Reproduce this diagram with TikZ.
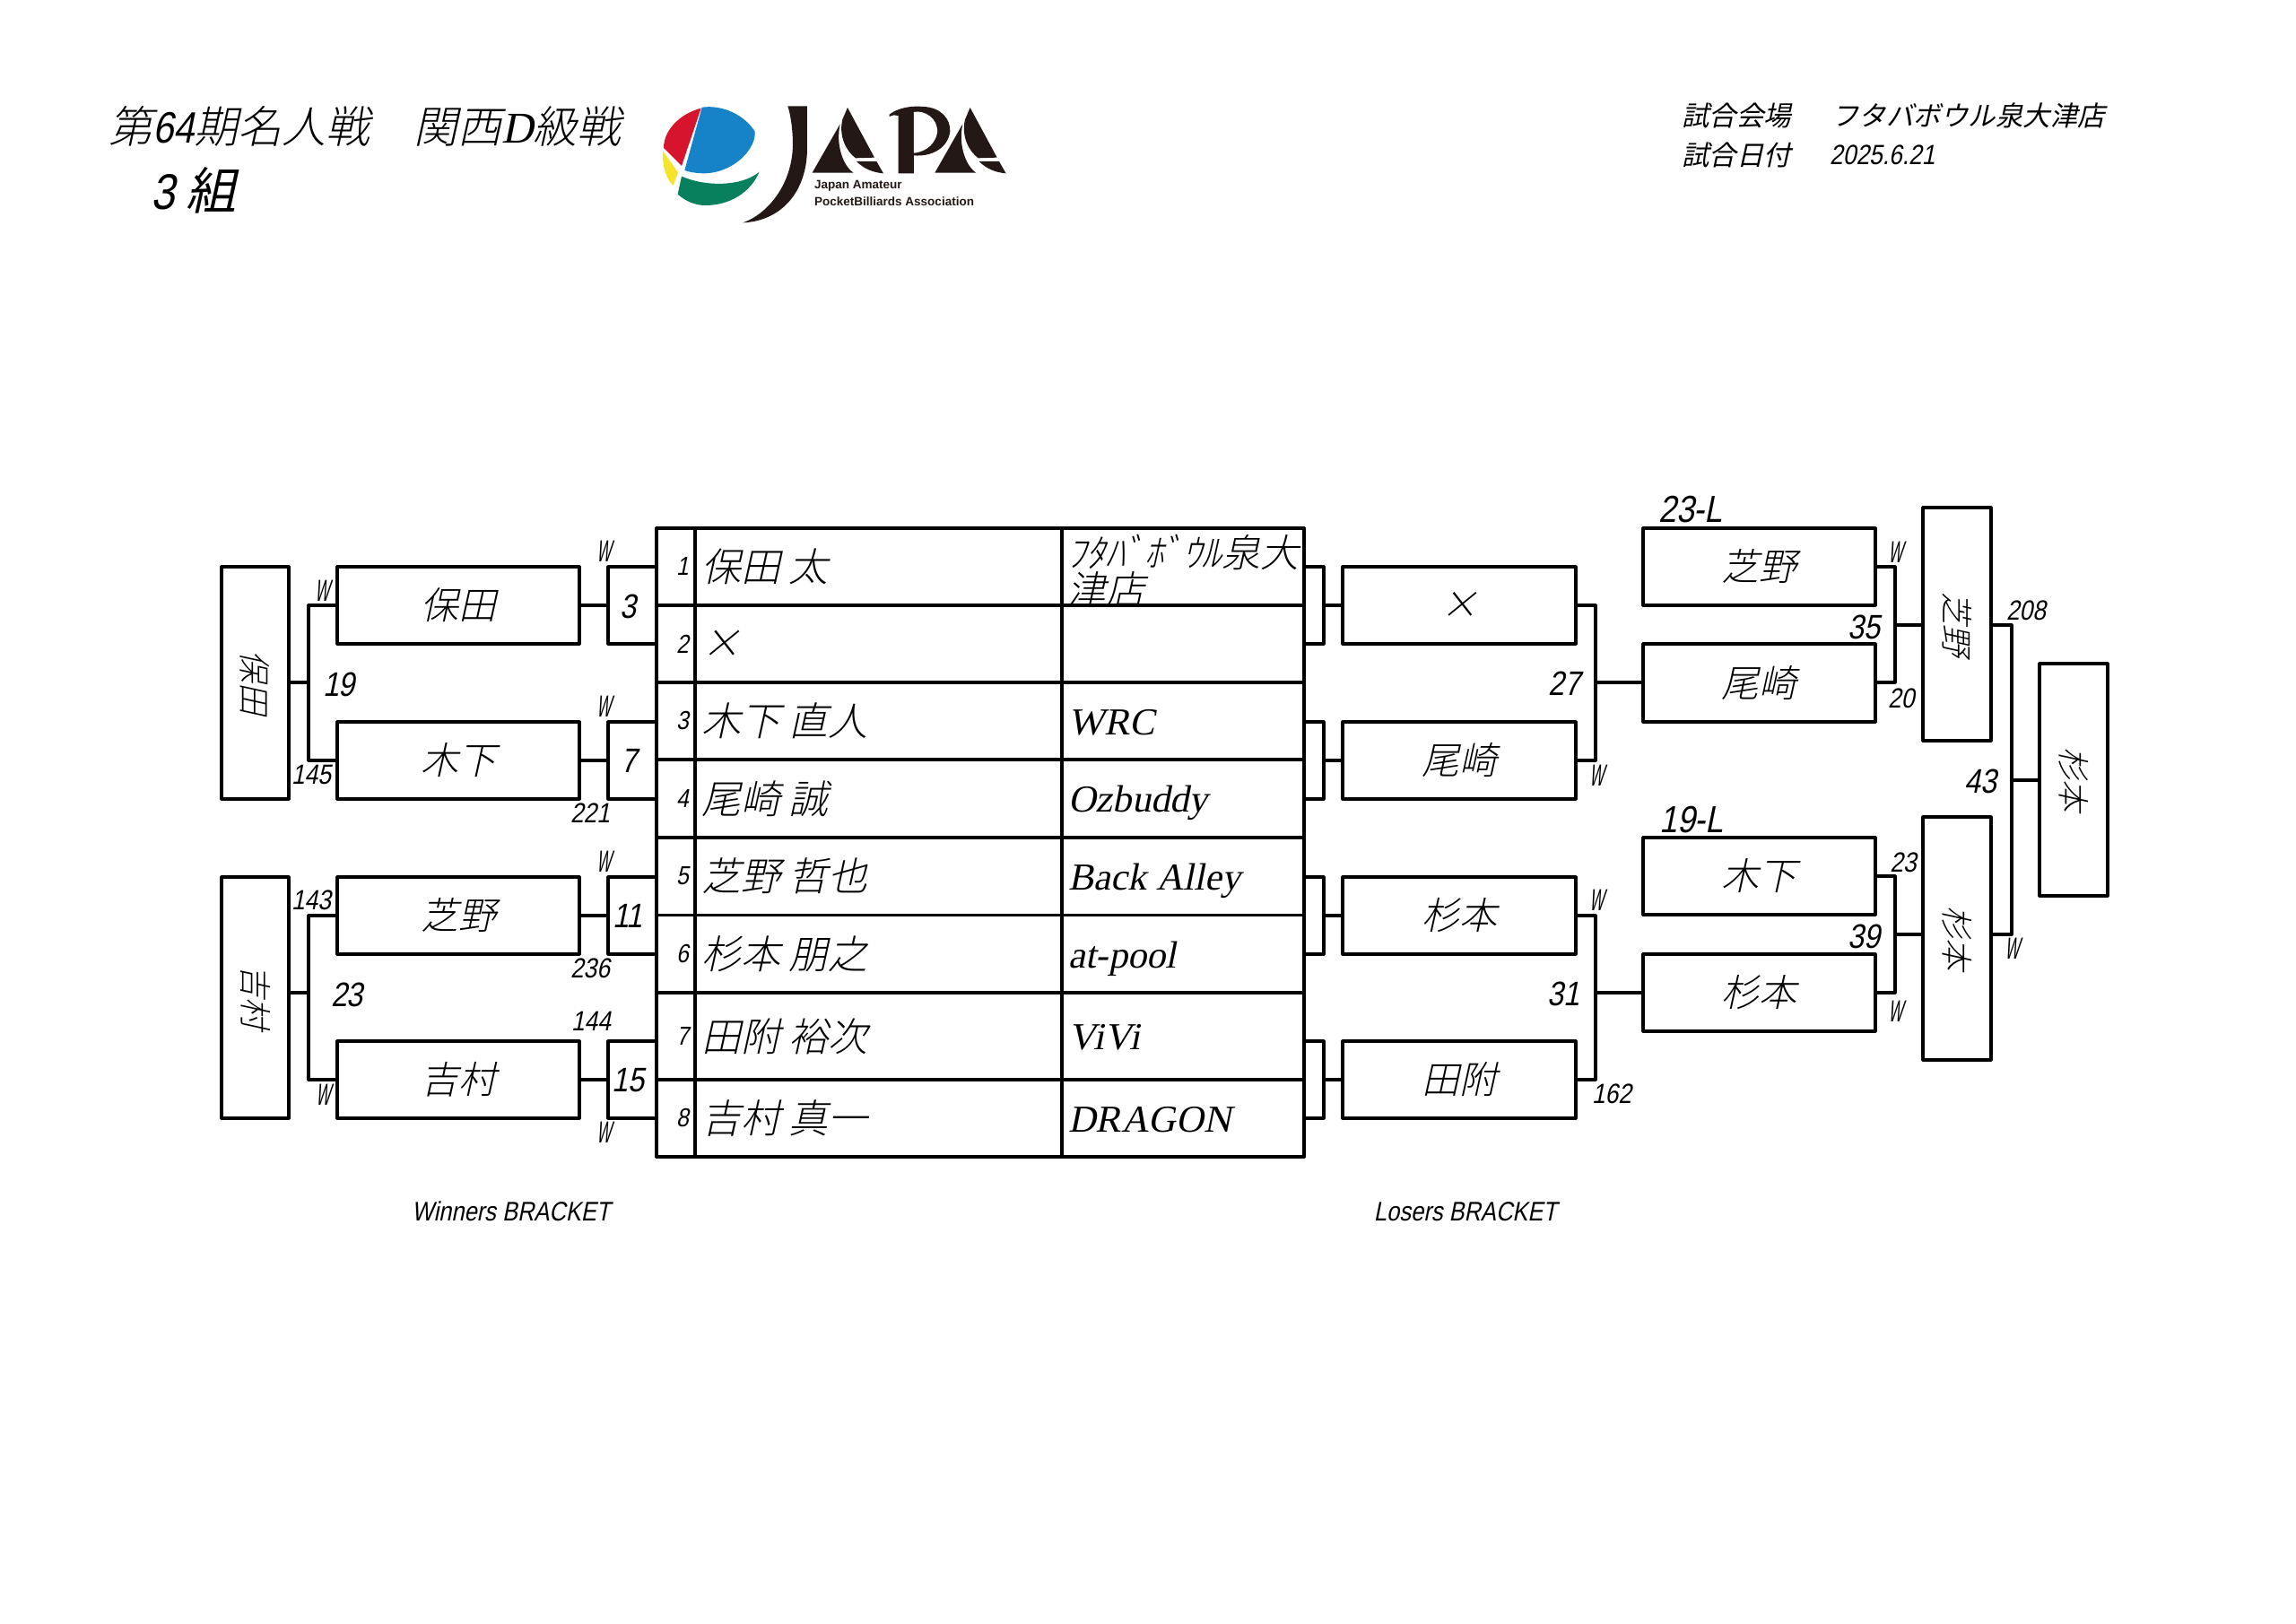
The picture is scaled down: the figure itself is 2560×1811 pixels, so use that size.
\documentclass[tikz,border=0pt]{standalone}
\usepackage{fontspec}
\setmainfont{Liberation Serif}
\newfontfamily\jp[FakeSlant=0.22]{Noto Sans CJK JP Light}
\newfontfamily\jpb[FakeSlant=0.22]{Noto Sans CJK JP}
\newfontfamily\wfont[FakeStretch=0.5,FakeSlant=0.2]{Liberation Sans}
\newfontfamily\numi[FakeStretch=0.85,FakeSlant=0.2]{Liberation Sans}
\newfontfamily\cond{Liberation Sans}
\newfontfamily\seri[FakeSlant=0.2]{Liberation Serif}
\definecolor{ink}{HTML}{231815}
\definecolor{lgblue}{HTML}{1682C8}
\definecolor{lgred}{HTML}{D7142E}
\definecolor{lgyellow}{HTML}{F5E42A}
\definecolor{lggreen}{HTML}{08805E}
\tikzset{
 x=1pt,y=-1pt,
 bx/.style={draw=black,line width=3.2pt,line join=round,line cap=round,fill=none},
 ln/.style={draw=black,line width=3.2pt,line join=round,line cap=round},
 big/.style={font=\fontsize{42}{42}\selectfont\jp,inner sep=0pt},
 vert/.style={big,rotate=-90,font=\fontsize{36}{36}\selectfont\jp},
 mono/.style={inner sep=0pt,xshift=-2pt,font=\fontsize{38}{38}\selectfont\numi},
 sm/.style={inner sep=0pt,xshift=-2pt,font=\fontsize{31}{31}\selectfont\numi},
 wl/.style={inner sep=0pt,xshift=-3pt,font=\fontsize{34}{34}\selectfont\wfont},
 rowno/.style={inner sep=0pt,xshift=-2pt,font=\fontsize{29}{29}\selectfont\numi},
 nm/.style={anchor=west,inner sep=0pt,xshift=-3pt,font=\fontsize{44}{44}\selectfont\jp},
 te/.style={anchor=base west,inner sep=0pt,xshift=-2pt,font=\fontsize{42.5}{42.5}\selectfont\seri},
 hdr/.style={anchor=west,inner sep=0pt,font=\fontsize{30.5}{30.5}\selectfont\jpb},
 lgtxt/.style={anchor=west,inner sep=0pt,text=ink,font=\fontsize{13.5}{13.5}\selectfont\cond\bfseries},
 captxt/.style={inner sep=0pt,xshift=-2pt,font=\fontsize{30}{30}\selectfont\numi},
}
\newcommand{\logoA}{%
 \fill[ink] (620,100) -- (527,263) -- (665,263) .. controls (630,240) and (605,170) .. (620,100) -- cycle;
 \fill[ink] (645,45) -- (735,212) -- (672,214) .. controls (640,190) and (615,140) .. (628,85) -- cycle;
 \fill[ink] (675,225) -- (742,225) -- (765,265) .. controls (730,262) and (700,250) .. (675,225) -- cycle;}
\begin{document}
\begin{tikzpicture}
\path[use as bounding box] (0,0) rectangle (2560,1811);
% header
\node[anchor=west,inner sep=0pt,font=\fontsize{49}{49}\selectfont\jp] (title) at (121,141) {第{\numi 64}期名人戦　関西{\seri D}級戦};
\node[anchor=west,inner sep=0pt,font=\fontsize{56}{56}\selectfont\jpb] (grp) at (168,212) {{\numi 3}\hspace{13pt}組};
\node[hdr] (v1) at (1875,129) {試合会場};
\node[hdr] (v2) at (2042,129) {フタバボウル泉大津店};
\node[hdr] (d1) at (1875,173) {試合日付};
\node[anchor=west,inner sep=0pt,font=\fontsize{31}{31}\selectfont\numi] (d2) at (2040,173) {2025.6.21};
% logo
\begin{scope}[shift={(730,105)},x=0.3333pt,y=-0.3333pt]
\fill[lgblue] (158,44) .. controls (230,35) and (300,70) .. (335,125) .. controls (340,180) and (270,260) .. (170,265) .. controls (135,265) and (115,260) .. (100,255) -- cycle;
\fill[lgred] (155,47) .. controls (85,65) and (30,120) .. (30,180) -- (90,240) -- cycle;
\fill[lgyellow] (27,190) -- (78,262) -- (62,306) .. controls (35,280) and (25,235) .. (27,190) -- cycle;
\fill[lggreen] (90,275) .. controls (170,310) and (290,310) .. (350,260) .. controls (320,330) and (250,372) .. (170,372) .. controls (130,372) and (100,355) .. (77,335) -- cycle;
\fill[ink] (445,40) -- (510,40) -- (510,180) .. controls (510,330) and (420,425) .. (295,430) .. controls (380,400) and (460,300) .. (462,170) .. controls (462,120) and (455,70) .. (445,40) -- cycle;
\logoA
\fill[ink] (785,68) .. controls (815,45) and (860,38) .. (900,42) .. controls (960,45) and (990,85) .. (988,125) .. controls (980,185) and (920,210) .. (867,205) -- (867,265) -- (815,265) -- (815,72) .. controls (805,68) and (795,70) .. (785,75) -- cycle;
\fill[white] (867,60) .. controls (900,52) and (950,80) .. (945,130) .. controls (935,180) and (890,195) .. (867,197) -- cycle;
\begin{scope}[xshift=136.67pt]\logoA\end{scope}
\end{scope}
\node[lgtxt] (l1) at (908,207) {Japan Amateur};
\node[lgtxt] (l2) at (908,225) {PocketBilliards Association};
% table
\foreach \y in {589,675,761,847,934,1020.5,1107,1204,1290} \draw[ln] (732,\y) -- (1454,\y);
\foreach \x in {732,775,1184,1454} \draw[ln] (\x,589) -- (\x,1290);
\foreach \n/\y in {1/632,2/718,3/804,4/891,5/977,6/1064,7/1156,8/1247} \node[rowno] (r\n) at (763,\y) {\n};
\node[nm] (n1) at (785,632) {保田 太};
\node[nm] (n2) at (785,718) {×};
\node[nm] (n3) at (785,804) {木下 直人};
\node[nm] (n4) at (785,891) {尾崎 誠};
\node[nm] (n5) at (785,977) {芝野 哲也};
\node[nm] (n6) at (785,1064) {杉本 朋之};
\node[nm] (n7) at (785,1156) {田附 裕次};
\node[nm] (n8) at (785,1247) {吉村 真一};
\node[anchor=west,inner sep=0pt,align=left,font=\fontsize{43}{41}\selectfont\jp] (t1) at (1190,636) {ﾌﾀﾊﾞﾎﾞｳﾙ泉大\\津店};
\node[te] (t3) at (1193,819) {WRC};
\node[te] (t4) at (1193,905) {Ozbuddy};
\node[te] (t5) at (1193,992) {Back Alley};
\node[te] (t6) at (1193,1079) {at-pool};
\node[te] (t7) at (1193,1170) {ViVi};
\node[te] (t8) at (1193,1262) {DRAGON};
% boxes
\foreach \name/\xa/\ya/\xb/\yb in {wa/376/632/646/718,wb/376/805/646/891,wc/376/978/646/1064,wd/376/1161/646/1247,
 la/1497/632/1757/718,lb/1497/805/1757/891,lc/1497/978/1757/1064,ld/1497/1161/1757/1247,
 ra/1832/589/2091/675,rb/1832/718/2091/805,rc/1832/934/2091/1020,rd/1832/1064/2091/1150,
 ta/247/632/322/891,tb/247/978/322/1247,
 sa/2144/566/2220/826,sb/2144/911/2220/1182,fin/2274/740/2350/999}
  \draw[bx] (\xa,\ya) rectangle (\xb,\yb) coordinate[pos=.5] (\name);
% winners seed brackets
\draw[ln] (732,632) -- (678,632) -- (678,718) -- (732,718);
\draw[ln] (732,805) -- (678,805) -- (678,891) -- (732,891);
\draw[ln] (732,978) -- (678,978) -- (678,1064) -- (732,1064);
\draw[ln] (732,1161) -- (678,1161) -- (678,1247) -- (732,1247);
\draw[ln] (646,675) -- (678,675);\draw[ln] (646,848) -- (678,848);
\draw[ln] (646,1021) -- (678,1021);\draw[ln] (646,1204) -- (678,1204);
\draw[ln] (376,675) -- (344,675) -- (344,848) -- (376,848);
\draw[ln] (376,1021) -- (344,1021) -- (344,1204) -- (376,1204);
\draw[ln] (322,761) -- (344,761);\draw[ln] (322,1107) -- (344,1107);
% losers
\draw[ln] (1454,632) -- (1476,632) -- (1476,718) -- (1454,718);
\draw[ln] (1454,805) -- (1476,805) -- (1476,891) -- (1454,891);
\draw[ln] (1454,978) -- (1476,978) -- (1476,1064) -- (1454,1064);
\draw[ln] (1454,1161) -- (1476,1161) -- (1476,1247) -- (1454,1247);
\draw[ln] (1476,675) -- (1497,675);\draw[ln] (1476,848) -- (1497,848);
\draw[ln] (1476,1021) -- (1497,1021);\draw[ln] (1476,1204) -- (1497,1204);
\draw[ln] (1757,675) -- (1779,675) -- (1779,848) -- (1757,848);
\draw[ln] (1757,1021) -- (1779,1021) -- (1779,1204) -- (1757,1204);
\draw[ln] (1779,761) -- (1832,761);\draw[ln] (1779,1107) -- (1832,1107);
\draw[ln] (2091,632) -- (2113,632) -- (2113,761) -- (2091,761);
\draw[ln] (2091,977) -- (2113,977) -- (2113,1107) -- (2091,1107);
\draw[ln] (2113,697) -- (2144,697);\draw[ln] (2113,1042) -- (2144,1042);
\draw[ln] (2220,697) -- (2243,697) -- (2243,1042) -- (2220,1042);
\draw[ln] (2243,870) -- (2274,870);
% names
\node[big] (na) at (wa) {保田};
\node[big] (nb) at (wb) {木下};
\node[big] (nc) at (wc) {芝野};
\node[big] (nd) at (wd) {吉村};
\node[big] (ne) at (la) {×};
\node[big] (nf) at (lb) {尾崎};
\node[big] (ng) at (lc) {杉本};
\node[big] (nh) at (ld) {田附};
\node[big] (ni) at (ra) {芝野};
\node[big] (nj) at (rb) {尾崎};
\node[big] (nk) at (rc) {木下};
\node[big] (nl) at (rd) {杉本};
\node[vert] (vt1) at (ta) {保田};
\node[vert] (vt2) at (tb) {吉村};
\node[vert] (vs1) at (sa) {芝野};
\node[vert] (vs2) at (sb) {杉本};
\node[vert] (vs3) at (fin) {杉本};
% round numbers
\node[mono] (m3) at (702,676) {3};
\node[mono] (m7) at (703,848) {7};
\node[mono] (m11) at (702,1021) {11};
\node[mono] (m15) at (702,1205) {15};
\node[mono] (m19) at (380,763) {19};
\node[mono] (m23) at (389,1109) {23};
\node[mono] (m27) at (1746,762) {27};
\node[mono] (m31) at (1745,1108) {31};
\node[mono] (m35) at (2080,699) {35};
\node[mono] (m39) at (2080,1044) {39};
\node[mono] (m43) at (2210,871) {43};
\node[sm] (s145) at (349,864) {145};
\node[sm] (s221) at (660,907) {221};
\node[sm] (s143) at (349,1004) {143};
\node[sm] (s236) at (660,1080) {236};
\node[sm] (s144) at (661,1139) {144};
\node[sm] (s162) at (1799,1220) {162};
\node[sm] (s208) at (2261,681) {208};
\node[sm] (s23) at (2124,962) {23};
\node[sm,anchor=west] (s20) at (2107,779) {20};
\node[font=\fontsize{42}{42}\selectfont\numi,inner sep=0pt] (l23) at (1885,568) {23-L};
\node[font=\fontsize{42}{42}\selectfont\numi,inner sep=0pt] (l19) at (1886,914) {19-L};
% W marks
\foreach \n/\x/\y in {a/676/615,b/362/659,c/676/788,d/676/961,e/363/1221,f/676/1263,g/1783/865,h/1783/1004,i/2116/616,j/2116/1128,k/2246/1058}
  \node[wl] (w\n) at (\x,\y) {W};
% captions
\node[captxt] (cw) at (572,1351) {Winners BRACKET};
\node[captxt] (cl) at (1636,1351) {Losers BRACKET};
\end{tikzpicture}
\end{document}
